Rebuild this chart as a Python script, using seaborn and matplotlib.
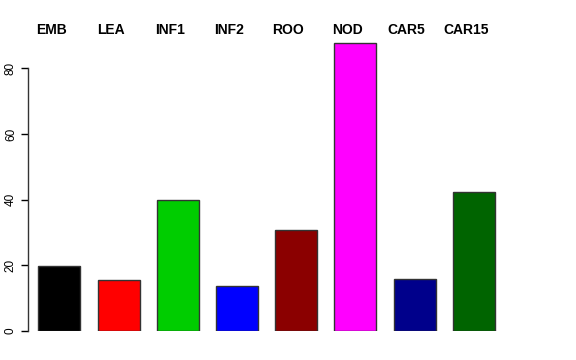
import numpy as np
import pandas as pd
import matplotlib
matplotlib.use("Agg")
import matplotlib.pyplot as plt
import matplotlib.transforms as mtransforms
import seaborn as sns

tissues = ["EMB", "LEA", "INF1", "INF2", "ROO", "NOD", "CAR5", "CAR15"]
values = [19.7, 15.4, 39.8, 13.6, 30.7, 87.8, 15.9, 42.2]
bar_colors = ["#000000", "#FF0000", "#00CD00", "#0000FF",
              "#8B0000", "#FF00FF", "#00008B", "#006400"]
yticks = [0, 20, 40, 60, 80]

df = pd.DataFrame({"tissue": tissues, "value": values})

sns.set_style("white")
plt.rcParams["font.family"] = ["Liberation Sans", "DejaVu Sans"]
plt.rcParams["text.color"] = "black"
plt.rcParams["ytick.color"] = "black"

fig = plt.figure(figsize=(5.76, 3.6), dpi=100)
ax = fig.add_axes([28 / 576, 29 / 360, 502 / 576, 295.65 / 360])

sns.barplot(data=df, x="tissue", y="value", hue="tissue", palette=bar_colors,
            legend=False, width=0.71, edgecolor="#333333", linewidth=1,
            saturation=1, ax=ax)

ax.set_xlim(-0.529, 7.95)
ax.set_ylim(0, 90)
ax.set_xlabel("")
ax.set_ylabel("")
ax.set_xticks([])
ax.set_yticks(yticks)
ax.set_yticklabels([str(t) for t in yticks], rotation=90, va="center", fontsize=8.5)
ax.tick_params(axis="y", direction="out", length=5, width=1, colors="black",
               labelcolor="black", pad=3, left=True)

for side in ["top", "right", "bottom"]:
    ax.spines[side].set_visible(False)
ax.spines["left"].set_bounds(0, 80)
ax.spines["left"].set_color("#333333")
ax.spines["left"].set_linewidth(1)

trans = mtransforms.blended_transform_factory(ax.transData, fig.transFigure)
for i, name in enumerate(tissues):
    ax.text(i - 0.135, 1 - 30 / 360, name, transform=trans, ha="center", va="center",
            fontsize=10, fontweight="bold", color="black", clip_on=False)

fig.savefig("out.png", dpi=100)
